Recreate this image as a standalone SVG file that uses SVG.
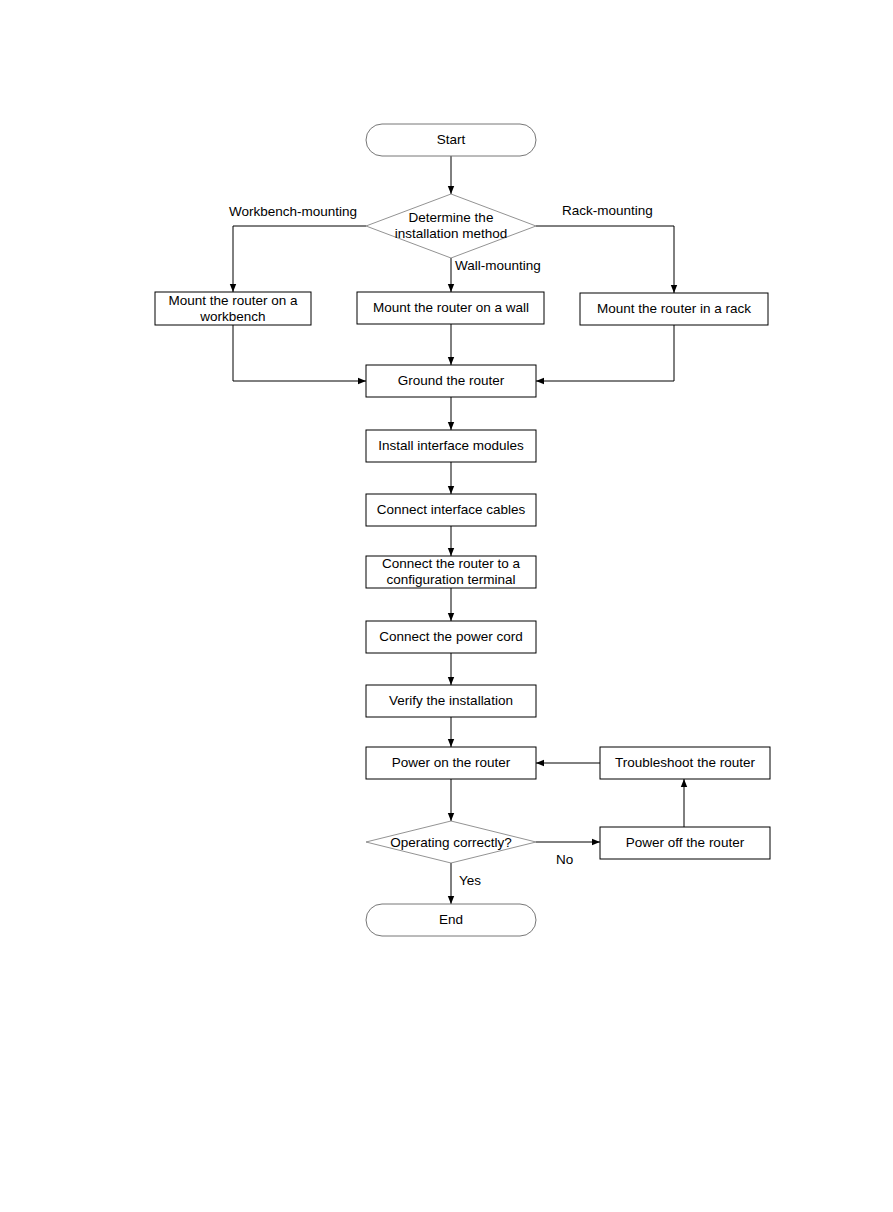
<svg xmlns="http://www.w3.org/2000/svg" width="893" height="1212" viewBox="0 0 893 1212">
<style>
text{font-family:"Liberation Sans",Arial,sans-serif;font-size:13.5px;fill:#000}
.c{text-anchor:middle}
.box{fill:#fff;stroke:#000;stroke-width:1}
.term{fill:#fff;stroke:#777;stroke-width:1}
.dia{fill:#fff;stroke:#777;stroke-width:0.8}
.ln{fill:none;stroke:#000;stroke-width:1}
</style>
<defs>
<marker id="ah" viewBox="0 0 10 10" refX="10" refY="5" markerWidth="8" markerHeight="8" orient="auto" markerUnits="userSpaceOnUse">
<path d="M0,1 L10,5 L0,9 z" fill="#000"/>
</marker>
</defs>
<rect width="893" height="1212" fill="#fff"/>
<g id="connectors">
<path class="ln" d="M451,156 V194" marker-end="url(#ah)"/>
<path class="ln" d="M366,226 H233 V292" marker-end="url(#ah)"/>
<path class="ln" d="M451,258 V292" marker-end="url(#ah)"/>
<path class="ln" d="M536,226 H674 V293" marker-end="url(#ah)"/>
<path class="ln" d="M233,325 V381 H366" marker-end="url(#ah)"/>
<path class="ln" d="M451,324 V365" marker-end="url(#ah)"/>
<path class="ln" d="M674,325 V381 H536" marker-end="url(#ah)"/>
<path class="ln" d="M451,397 V430" marker-end="url(#ah)"/>
<path class="ln" d="M451,462 V494" marker-end="url(#ah)"/>
<path class="ln" d="M451,526 V556" marker-end="url(#ah)"/>
<path class="ln" d="M451,588 V621" marker-end="url(#ah)"/>
<path class="ln" d="M451,653 V685" marker-end="url(#ah)"/>
<path class="ln" d="M451,717 V747" marker-end="url(#ah)"/>
<path class="ln" d="M451,779 V821" marker-end="url(#ah)"/>
<path class="ln" d="M451,863 V904" marker-end="url(#ah)"/>
<path class="ln" d="M536,842 H600" marker-end="url(#ah)"/>
<path class="ln" d="M684,827 V779" marker-end="url(#ah)"/>
<path class="ln" d="M600,763 H536" marker-end="url(#ah)"/>
<text x="229" y="216">Workbench-mounting</text>
<text x="562" y="215">Rack-mounting</text>
<text x="455" y="270">Wall-mounting</text>
<text x="556" y="864">No</text>
<text x="459" y="885">Yes</text>
</g>
<g id="start"><rect class="term" x="366" y="124" width="170" height="32" rx="16"/><text class="c" x="451" y="144">Start</text></g>
<g id="determine"><polygon class="dia" points="451,194 536,226 451,258 366,226"/><text class="c" x="451" y="222">Determine the</text><text class="c" x="451" y="238">installation method</text></g>
<g id="workbench"><rect class="box" x="155" y="292" width="156" height="33"/><text class="c" x="233" y="305">Mount the router on a</text><text class="c" x="233" y="321">workbench</text></g>
<g id="wall"><rect class="box" x="357" y="292" width="187" height="32"/><text class="c" x="451" y="312">Mount the router on a wall</text></g>
<g id="rack"><rect class="box" x="580" y="293" width="188" height="32"/><text class="c" x="674" y="313">Mount the router in a rack</text></g>
<g id="ground"><rect class="box" x="366" y="365" width="170" height="32"/><text class="c" x="451" y="385">Ground the router</text></g>
<g id="install"><rect class="box" x="366" y="430" width="170" height="32"/><text class="c" x="451" y="450">Install interface modules</text></g>
<g id="cables"><rect class="box" x="366" y="494" width="170" height="32"/><text class="c" x="451" y="514">Connect interface cables</text></g>
<g id="terminal"><rect class="box" x="366" y="556" width="170" height="32"/><text class="c" x="451" y="568">Connect the router to a</text><text class="c" x="451" y="584">configuration terminal</text></g>
<g id="power-cord"><rect class="box" x="366" y="621" width="170" height="32"/><text class="c" x="451" y="641">Connect the power cord</text></g>
<g id="verify"><rect class="box" x="366" y="685" width="170" height="32"/><text class="c" x="451" y="705">Verify the installation</text></g>
<g id="power-on"><rect class="box" x="366" y="747" width="170" height="32"/><text class="c" x="451" y="767">Power on the router</text></g>
<g id="operating"><polygon class="dia" points="451,821 536,842 451,863 366,842"/><text class="c" x="451" y="847">Operating correctly?</text></g>
<g id="end"><rect class="term" x="366" y="904" width="170" height="32" rx="16"/><text class="c" x="451" y="924">End</text></g>
<g id="troubleshoot"><rect class="box" x="600" y="747" width="170" height="32"/><text class="c" x="685" y="767">Troubleshoot the router</text></g>
<g id="power-off"><rect class="box" x="600" y="827" width="170" height="32"/><text class="c" x="685" y="847">Power off the router</text></g>
</svg>
